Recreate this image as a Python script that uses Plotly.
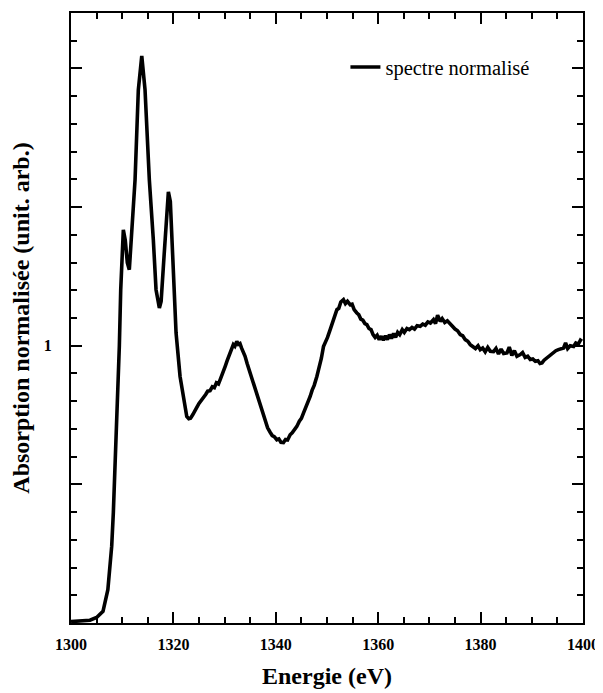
import plotly.graph_objects as go

# Energy (eV)
energy = [
    1300.0, 1302.0, 1303.7, 1305.0, 1306.25, 1307.2, 1307.95, 1308.27, 1308.6, 1309.05,
    1309.44, 1309.71, 1310.0, 1310.22, 1310.6, 1311.0, 1311.39, 1311.9, 1312.51, 1313.15,
    1313.82, 1314.46, 1315.3, 1316.08, 1316.61, 1317.26, 1317.6, 1318.2, 1319.02, 1319.4,
    1319.68, 1320.1, 1320.52, 1321.3, 1321.95, 1322.61, 1323.0, 1323.35,
    1323.8, 1324.2, 1324.57, 1325.0, 1325.4, 1325.85, 1326.3, 1326.7, 1327.16, 1327.6,
    1328.0, 1328.4, 1328.8, 1329.12, 1329.5, 1329.8, 1330.1, 1330.5, 1330.8, 1331.07,
    1331.4, 1331.7, 1332.0, 1332.38, 1332.7, 1333.0, 1333.3, 1333.67, 1334.0, 1334.4,
    1334.98, 1335.4, 1335.8, 1336.29, 1336.7, 1337.1, 1337.58, 1338.0, 1338.4, 1338.89,
    1339.3, 1339.7, 1340.2, 1340.6, 1341.0, 1341.49, 1341.9, 1342.3, 1342.8, 1343.2,
    1343.7, 1344.11, 1344.6, 1345.0, 1345.4, 1345.9, 1346.3, 1346.71, 1347.1, 1347.5,
    1348.02, 1348.4, 1348.9, 1349.31, 1349.7, 1350.1, 1350.62, 1351.0, 1351.4, 1351.93,
    1352.3, 1352.7, 1353.21, 1353.6, 1354.0, 1354.52, 1354.9, 1355.3, 1355.83, 1356.2,
    1356.6, 1357.0, 1357.4, 1357.79, 1358.2, 1358.6, 1359.0, 1359.4, 1359.8, 1360.2,
    1360.6, 1361.0, 1361.4, 1361.8, 1362.2, 1362.6, 1363.0, 1363.4, 1363.8, 1364.2,
    1364.7, 1365.1, 1365.61, 1366.1, 1366.6, 1367.1, 1367.6, 1368.2, 1368.7, 1369.2,
    1369.7, 1370.2, 1370.8, 1371.2, 1371.6, 1372.11, 1372.5, 1373.0, 1373.5, 1374.07,
    1374.5, 1375.0, 1375.5, 1376.02, 1376.5, 1377.0, 1377.5, 1377.98, 1378.5, 1379.0,
    1379.5, 1379.93, 1380.4, 1380.9, 1381.4, 1381.9, 1382.53, 1383.0, 1383.5, 1384.0,
    1384.5, 1385.15, 1385.6, 1386.1, 1386.6, 1387.1, 1387.75, 1388.2, 1388.7, 1389.2,
    1389.7, 1390.2, 1390.7, 1391.2, 1391.6, 1391.99, 1392.4, 1392.9, 1393.4, 1393.8,
    1394.25, 1394.7, 1395.2, 1395.7, 1396.21, 1396.6, 1397.0, 1397.5, 1398.16, 1398.6,
    1399.1, 1399.5, 1399.8,
]

# Normalised absorption (arb. units)
absorption = [
    0.005, 0.006, 0.010, 0.020, 0.042, 0.120, 0.277, 0.398, 0.565, 0.758,
    0.997, 1.202, 1.350, 1.418, 1.380, 1.300, 1.274, 1.420, 1.598, 1.923,
    2.045, 1.923, 1.598, 1.382, 1.202, 1.136, 1.160, 1.330, 1.555, 1.520,
    1.382, 1.200, 1.046, 0.889, 0.817, 0.745, 0.737, 0.739,
    0.752, 0.768, 0.778, 0.792, 0.801, 0.815, 0.824, 0.836, 0.838, 0.852,
    0.849, 0.866, 0.862, 0.877, 0.893, 0.908, 0.925, 0.946, 0.962, 0.979,
    0.990, 1.004, 0.998, 1.016, 1.005, 1.008, 0.992, 0.979, 0.962, 0.936,
    0.902, 0.880, 0.858, 0.829, 0.806, 0.776, 0.748, 0.722, 0.704, 0.688,
    0.676, 0.672, 0.661, 0.664, 0.652, 0.651, 0.662, 0.660, 0.679, 0.686,
    0.699, 0.709, 0.728, 0.738, 0.757, 0.778, 0.795, 0.817, 0.840, 0.857,
    0.889, 0.915, 0.955, 0.997, 1.012, 1.030, 1.058, 1.078, 1.100, 1.130,
    1.135, 1.158, 1.166, 1.152, 1.160, 1.148, 1.150, 1.130, 1.118, 1.112,
    1.096, 1.092, 1.080, 1.076, 1.062, 1.058, 1.040, 1.030, 1.038, 1.022,
    1.034, 1.020, 1.036, 1.022, 1.040, 1.026, 1.044, 1.030, 1.048, 1.040,
    1.058, 1.048, 1.062, 1.058, 1.066, 1.060, 1.072, 1.070, 1.078, 1.074,
    1.086, 1.082, 1.094, 1.080, 1.110, 1.088, 1.098, 1.084, 1.090, 1.076,
    1.070, 1.060, 1.054, 1.040, 1.036, 1.022, 1.016, 1.004, 0.996, 0.990,
    1.000, 0.986, 0.992, 0.978, 0.994, 0.980, 0.979, 0.990, 0.970, 0.988,
    0.972, 0.974, 0.995, 0.965, 0.982, 0.962, 0.968, 0.975, 0.958, 0.962,
    0.950, 0.952, 0.944, 0.946, 0.936, 0.938, 0.948, 0.956, 0.962, 0.970,
    0.974, 0.982, 0.986, 0.990, 0.992, 1.010, 0.990, 1.000, 0.997, 1.010,
    1.006, 1.020, 1.016,
]

x_ticks = [1300, 1320, 1340, 1360, 1380, 1400]
y_tickvals = [0, 0.5, 1.0, 1.5, 2.0]
y_ticktext = ["", "", "1", "", ""]

SERIF = "Liberation Serif, Times New Roman, serif"

fig = go.Figure()
fig.add_trace(go.Scatter(
    x=energy, y=absorption, mode="lines", name="spectre normalisé",
    line=dict(color="black", width=3.6),
))

axis_common = dict(
    showline=True, linecolor="black", linewidth=2, mirror="ticks",
    ticks="inside", tickcolor="black", tickwidth=2, ticklen=11,
    showgrid=False, zeroline=False, automargin=False,
)

fig.update_xaxes(
    range=[1300, 1400], tickvals=x_ticks,
    tickfont=dict(family=SERIF, size=16, color="black", weight="bold"),
    ticklabelstandoff=6,
    minor=dict(dtick=5, tick0=1300, ticks="inside", ticklen=6, tickwidth=2, tickcolor="black"),
    title=dict(text="Energie (eV)", font=dict(family=SERIF, size=24, color="black", weight="bold"),
               standoff=15),
    **axis_common,
)
fig.update_yaxes(
    range=[0, 2.2], tickvals=y_tickvals, ticktext=y_ticktext,
    tickfont=dict(family=SERIF, size=16, color="black", weight="bold"),
    ticklabelstandoff=14,
    minor=dict(tickmode="linear", dtick=0.1, tick0=0, ticks="inside", ticklen=6, tickwidth=2, tickcolor="black"),
    title=dict(text="Absorption normalisée (unit. arb.)\u00a0\u00a0\u00a0",
               font=dict(family=SERIF, size=24, color="black", weight="bold"), standoff=14),
    **axis_common,
)

fig.update_layout(
    width=595, height=685,
    margin=dict(l=63, r=20, t=5, b=70),
    paper_bgcolor="white", plot_bgcolor="white",
    showlegend=True,
    legend=dict(x=0.536, y=0.944, xanchor="left", yanchor="top",
                bgcolor="rgba(0,0,0,0)", borderwidth=0,
                font=dict(family=SERIF, size=20.5, color="black")),
)

fig.write_html("out.html")
